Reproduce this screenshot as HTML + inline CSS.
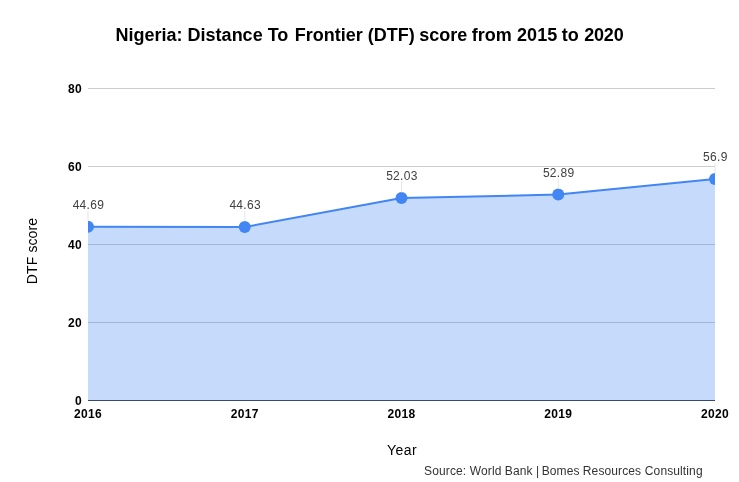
<!DOCTYPE html>
<html>
<head>
<meta charset="utf-8">
<title>Nigeria: Distance To Frontier (DTF) score from 2015 to 2020</title>
<style>
html,body{margin:0;padding:0;background:#fff;}
body{width:739px;height:482px;overflow:hidden;font-family:"Liberation Sans",Arial,sans-serif;}
svg{display:block;}
text{font-family:"Liberation Sans",Arial,sans-serif;}
.tick{font-size:12px;font-weight:bold;fill:#000;letter-spacing:0.33px;}
.ann{font-size:12px;fill:#404040;letter-spacing:0.3px;}
.axt{font-size:14px;fill:#000;}
</style>
</head>
<body>
<svg width="739" height="482" viewBox="0 0 739 482">
<defs><clipPath id="cp"><rect x="88" y="88" width="627" height="313"/></clipPath></defs>
<rect x="0" y="0" width="739" height="482" fill="#ffffff"/>
<text id="title" y="40.6" font-size="18" font-weight="bold" fill="#000"><tspan x="115.60">Nigeria: </tspan><tspan x="187.62">Distance </tspan><tspan x="267.65">To </tspan><tspan x="294.70">Frontier </tspan><tspan x="367.70">(DTF) </tspan><tspan x="419.17">score </tspan><tspan x="471.82">from </tspan><tspan x="517.12">2015 </tspan><tspan x="561.85">to </tspan><tspan x="584.35" letter-spacing="-0.25">2020</tspan></text>
<g>
<rect x="88" y="88" width="627" height="1" fill="#cccccc"/>
<rect x="88" y="166" width="627" height="1" fill="#cccccc"/>
<rect x="88" y="244" width="627" height="1" fill="#cccccc"/>
<rect x="88" y="322" width="627" height="1" fill="#cccccc"/>
<rect x="88" y="400" width="627" height="1" fill="#333333"/>
</g>
<g clip-path="url(#cp)">
<path d="M88,226.7 L244.75,227 L401.5,198 L558.25,194.6 L715,179 L715,401 L88,401 Z" fill="#4285f4" fill-opacity="0.3"/>
<path d="M88,226.7 L244.75,227 L401.5,198 L558.25,194.6 L715,179" fill="none" stroke="#4285f4" stroke-width="2"/>
<circle cx="88" cy="226.7" r="6" fill="#4285f4"/>
<circle cx="244.75" cy="227" r="6" fill="#4285f4"/>
<circle cx="401.5" cy="198" r="6" fill="#4285f4"/>
<circle cx="558.25" cy="194.6" r="6" fill="#4285f4"/>
<circle cx="715" cy="179" r="6" fill="#4285f4"/>
</g>
<g fill="#e6e6e6">
<rect x="87.5" y="210.5" width="1" height="10.5"/>
<rect x="244.25" y="210.8" width="1" height="10.5"/>
<rect x="401" y="181.8" width="1" height="10.5"/>
<rect x="557.75" y="178.4" width="1" height="10.5"/>
<rect x="714.5" y="162.8" width="1" height="10.5"/>
</g>
<g class="ann" text-anchor="middle">
<text x="88.4" y="208.8">44.69</text>
<text x="245.15" y="209.1">44.63</text>
<text x="401.9" y="180.1">52.03</text>
<text x="558.65" y="176.7">52.89</text>
<text x="715.4" y="161.1">56.9</text>
</g>
<g class="tick" text-anchor="end">
<text x="81.9" y="92.7">80</text>
<text x="81.9" y="170.7">60</text>
<text x="81.9" y="248.7">40</text>
<text x="81.9" y="326.7">20</text>
<text x="81.9" y="404.7">0</text>
</g>
<g class="tick" text-anchor="middle">
<text x="88" y="418">2016</text>
<text x="244.75" y="418">2017</text>
<text x="401.5" y="418">2018</text>
<text x="558.25" y="418">2019</text>
<text x="715" y="418">2020</text>
</g>
<text class="axt" x="402" y="455" text-anchor="middle" letter-spacing="0.45">Year</text>
<text class="axt" transform="translate(37.4,251) rotate(-90)" text-anchor="middle" letter-spacing="0.1">DTF score</text>
<text id="src" y="474.9" font-size="12" fill="#333" letter-spacing="0.12"><tspan x="424.1">Source: </tspan><tspan x="469.8">World </tspan><tspan x="504.8">Bank </tspan><tspan x="536">| </tspan><tspan x="541.7">Bomes </tspan><tspan x="582.8">Resources </tspan><tspan x="644.8">Consulting</tspan></text>
</svg>
</body>
</html>
